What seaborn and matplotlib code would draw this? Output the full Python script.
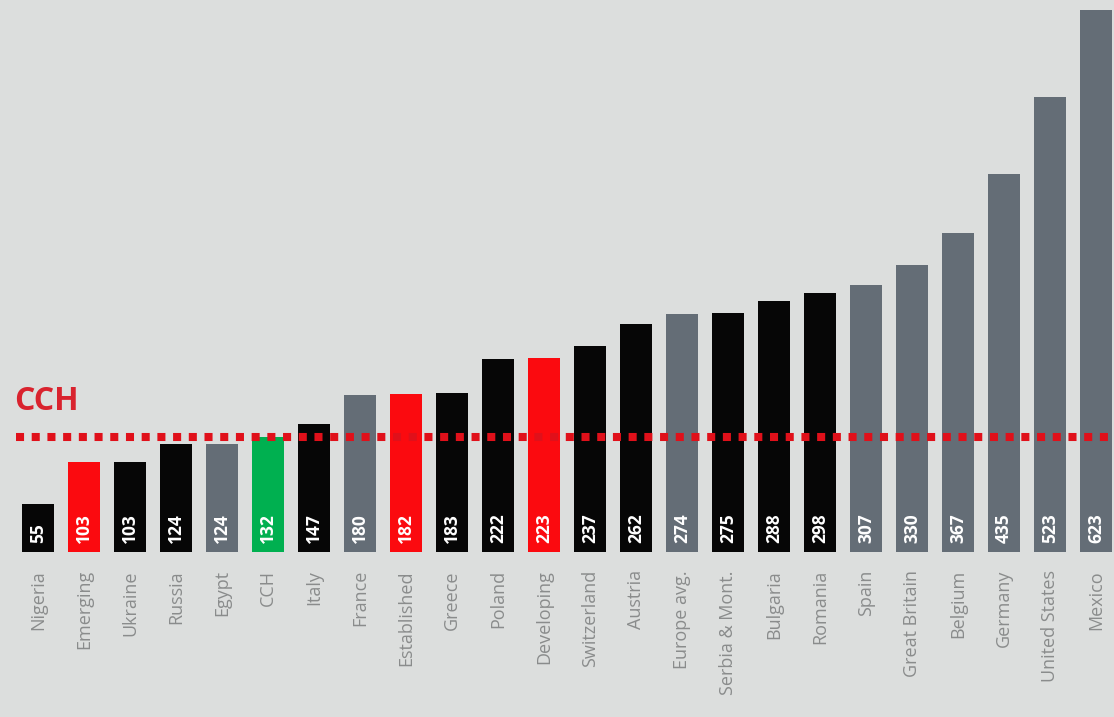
import matplotlib
matplotlib.use("Agg")
import matplotlib.pyplot as plt
import seaborn as sns
import numpy as np
import pandas as pd

# ---- data ----
countries = ["Nigeria", "Emerging", "Ukraine", "Russia", "Egypt", "CCH", "Italy", "France",
             "Established", "Greece", "Poland", "Developing", "Switzerland", "Austria",
             "Europe avg.", "Serbia & Mont.", "Bulgaria", "Romania", "Spain", "Great Britain",
             "Belgium", "Germany", "United States", "Mexico"]
values = [55, 103, 103, 124, 124, 132, 147, 180, 182, 183, 222, 223, 237, 262, 274, 275,
          288, 298, 307, 330, 367, 435, 523, 623]
groups = ["black", "red", "black", "black", "grey", "green", "black", "grey", "red", "black",
          "black", "red", "black", "black", "grey", "black", "black", "black", "grey", "grey",
          "grey", "grey", "grey", "grey"]
cch_level = 132

group_colors = {"black": "#060606", "red": "#fb0a0f", "grey": "#646d76", "green": "#00b050"}
bg = "#dcdedd"

sns.set_theme(style="white")
plt.rcParams["font.family"] = ["Open Sans", "DejaVu Sans"]

df = pd.DataFrame({"country": countries, "value": values, "group": groups})

fig = plt.figure(figsize=(11.14, 7.17), dpi=100)
fig.patch.set_facecolor(bg)
ax = fig.add_axes([0.0, 165 / 717, 1.0, 552 / 717])
ax.set_facecolor(bg)

sns.barplot(data=df, x="country", y="value", hue="group", palette=group_colors,
            width=0.7, dodge=False, legend=False, saturation=1, ax=ax, zorder=2,
            linewidth=0, edgecolor="none")

ax.set_xlim(-38 / 46, (1114 - 38) / 46)
ax.set_ylim(0, 623 * 552 / 542)

for s in ax.spines.values():
    s.set_visible(False)
ax.set_yticks([])
ax.set_xlabel("")
ax.set_ylabel("")
ax.tick_params(axis="x", length=0, pad=13)
ax.set_xticks(range(len(countries)))
ax.set_xticklabels(countries, rotation=90, color="#8a8c8c", fontsize=13, va="top")

# value labels
for i, v in enumerate(values):
    ax.text(i, 10, str(v), rotation=90, ha="center", va="bottom", color="white",
            fontsize=12.5, fontweight="bold", zorder=4)

# CCH dotted line
ax.axhline(cch_level, xmin=16 / 1114, xmax=1.0, color="#e0101a", linewidth=5.8,
           linestyle=(0, (1.0, 0.95)), dash_capstyle="butt", zorder=3)

fig.text(14 / 1114, (717 - 410) / 717, "CCH", color="#d9232e", fontsize=23,
         fontweight="bold", ha="left", va="baseline")

fig.savefig("out.png", dpi=100, facecolor=bg)
